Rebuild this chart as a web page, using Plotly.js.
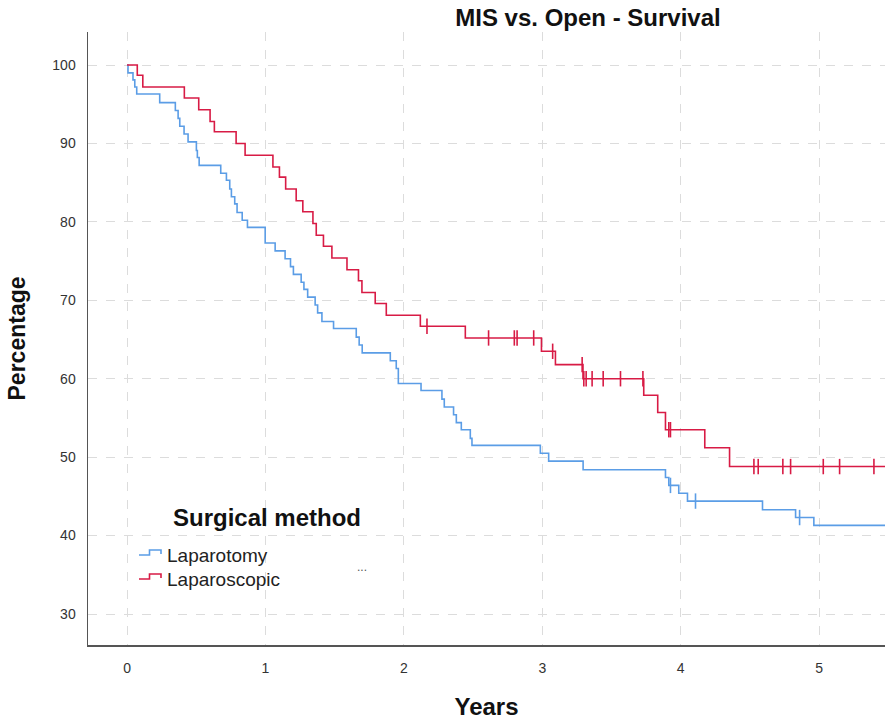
<!DOCTYPE html>
<html>
<head>
<meta charset="utf-8">
<script src="https://cdn.plot.ly/plotly-3.0.1.min.js"></script>
<style>html,body{margin:0;padding:0;background:#fff;}#chart{width:885px;height:722px;}</style>
</head>
<body>
<div id="chart"></div>
<script>
// Series names
const seriesNames = ["Laparotomy", "Laparoscopic"];

// Laparotomy (blue) step function: times (years) and survival (%)
const lapTomyTimes = [0, 0.007, 0.043, 0.056, 0.070, 0.236, 0.349, 0.369, 0.381, 0.412, 0.441, 0.501, 0.508, 0.521, 0.677, 0.718, 0.742, 0.754, 0.778, 0.795, 0.832, 0.870, 0.998, 1.070, 1.142, 1.181, 1.202, 1.258, 1.278, 1.305, 1.359, 1.377, 1.408, 1.492, 1.656, 1.677, 1.699, 1.902, 1.945, 1.960, 2.124, 2.275, 2.292, 2.359, 2.379, 2.415, 2.480, 2.492, 2.986, 3.046, 3.295, 3.890, 3.914, 3.986, 4.049, 4.591, 4.830, 4.962, 5.5];
const lapTomySurv  = [100, 99.0, 98.1, 97.2, 96.3, 95.2, 94.2, 93.2, 92.2, 91.2, 90.2, 89.1, 88.2, 87.2, 86.2, 85.3, 84.2, 83.2, 82.3, 81.2, 80.2, 79.3, 77.3, 76.3, 75.3, 74.3, 73.3, 72.3, 71.4, 70.4, 69.4, 68.4, 67.3, 66.4, 65.3, 64.3, 63.3, 62.3, 61.3, 59.4, 58.5, 57.4, 56.4, 55.4, 54.4, 53.5, 52.4, 51.5, 50.5, 49.5, 48.4, 47.4, 46.4, 45.4, 44.4, 43.3, 42.3, 41.3, 41.3];
const lapTomyCensor = [3.926, 4.107, 4.859];

// Laparoscopic (red) step function
const lapScopTimes = [0, 0.074, 0.114, 0.414, 0.518, 0.600, 0.631, 0.788, 0.853, 1.054, 1.101, 1.146, 1.222, 1.270, 1.343, 1.367, 1.419, 1.480, 1.589, 1.672, 1.697, 1.793, 1.873, 2.119, 2.444, 2.994, 3.095, 3.294, 3.733, 3.834, 3.890, 4.174, 4.353, 5.5];
const lapScopSurv  = [100, 98.7, 97.2, 95.8, 94.3, 92.8, 91.5, 90.0, 88.5, 87.0, 85.7, 84.2, 82.7, 81.3, 79.8, 78.3, 76.9, 75.4, 73.9, 72.5, 71.0, 69.6, 68.1, 66.7, 65.2, 63.5, 61.8, 60.0, 57.9, 55.7, 53.5, 51.2, 48.8, 48.8];
const lapScopCensor = [2.167, 2.612, 2.798, 2.818, 2.938, 3.075, 3.288, 3.300, 3.317, 3.360, 3.440, 3.565, 3.727, 3.914, 3.926, 4.529, 4.560, 4.738, 4.794, 5.030, 5.148, 5.396];

// Axis ticks
const xTicks = [0, 1, 2, 3, 4, 5];
const yTicks = [30, 40, 50, 60, 70, 80, 90, 100];

const BLUE = "#5b9de6";
const RED = "#d81b45";

function survAt(T, S, t) {
  let v = S[0];
  for (let i = 0; i < T.length; i++) { if (T[i] <= t) v = S[i]; else break; }
  return v;
}

const traces = [
  {x: lapTomyTimes, y: lapTomySurv, type: "scatter", mode: "lines", line: {shape: "hv", color: BLUE, width: 1.6}, name: seriesNames[0], hoverinfo: "skip"},
  {x: lapScopTimes, y: lapScopSurv, type: "scatter", mode: "lines", line: {shape: "hv", color: RED, width: 1.6}, name: seriesNames[1], hoverinfo: "skip"},
  {x: lapTomyCensor, y: lapTomyCensor.map(t => survAt(lapTomyTimes, lapTomySurv, t)), type: "scatter", mode: "markers",
   marker: {symbol: "line-ns", size: 11, line: {color: BLUE, width: 1.6}}, showlegend: false, hoverinfo: "skip"},
  {x: lapScopCensor, y: lapScopCensor.map(t => survAt(lapScopTimes, lapScopSurv, t)), type: "scatter", mode: "markers",
   marker: {symbol: "line-ns", size: 11, line: {color: RED, width: 1.6}}, showlegend: false, hoverinfo: "skip"}
];

const W = 885, H = 722, L = 88, R = 0, T = 32, B = 77;
const px = v => (v - L) / (W - L - R);
const py = v => (H - B - v) / (H - T - B);

function iconPath(y0) {
  return "M " + px(139) + " " + py(y0 + 4) + " L " + px(149.5) + " " + py(y0 + 4) +
         " L " + px(149.5) + " " + py(y0 - 1) + " L " + px(161) + " " + py(y0 - 1) +
         " L " + px(161) + " " + py(y0 + 3);
}

const fontFam = "Liberation Sans, Arial, sans-serif";

const layout = {
  width: W, height: H,
  margin: {l: L, r: R, t: T, b: B},
  paper_bgcolor: "#fff", plot_bgcolor: "#fff",
  showlegend: false,
  font: {family: fontFam, color: "#222"},
  title: {text: "MIS vs. Open - Survival", x: 588 / W, xanchor: "center", xref: "container",
          y: 1 - 18 / H, yanchor: "middle", yref: "container",
          font: {family: fontFam, size: 24, weight: "bold", color: "#111"}},
  xaxis: {
    range: [-0.282, 5.476], tickvals: xTicks, ticktext: xTicks.map(String),
    showline: true, linecolor: "#555", linewidth: 1.5, zeroline: false,
    showgrid: true, gridcolor: "#dcdcdc", griddash: "dash", gridwidth: 1,
    ticks: "", tickfont: {size: 14, color: "#333", family: fontFam}, ticklabelstandoff: 10,
    title: {text: "Years", font: {size: 24, weight: "bold", color: "#111", family: fontFam}, standoff: 23},
    fixedrange: true
  },
  yaxis: {
    range: [26.05, 104.21], tickvals: yTicks, ticktext: yTicks.map(String),
    showline: true, linecolor: "#555", linewidth: 1.5, zeroline: false,
    showgrid: true, gridcolor: "#dcdcdc", griddash: "dash", gridwidth: 1,
    ticks: "", tickfont: {size: 14, color: "#333", family: fontFam}, ticklabelstandoff: 8,
    title: {text: "Percentage", font: {size: 23, weight: "bold", color: "#111", family: fontFam}, standoff: 20},
    fixedrange: true
  },
  shapes: [
    {type: "path", xref: "paper", yref: "paper", path: iconPath(551), line: {color: BLUE, width: 1.6}},
    {type: "path", xref: "paper", yref: "paper", path: iconPath(575), line: {color: RED, width: 1.6}}
  ],
  annotations: [
    {text: "Surgical method", xref: "paper", yref: "paper", x: px(171), y: py(517), xanchor: "left", yanchor: "middle",
     showarrow: false, font: {family: fontFam, size: 24, weight: "bold", color: "#111"}},
    {text: seriesNames[0], xref: "paper", yref: "paper", x: px(165), y: py(555), xanchor: "left", yanchor: "middle",
     showarrow: false, font: {family: fontFam, size: 19, color: "#222"}},
    {text: seriesNames[1], xref: "paper", yref: "paper", x: px(165), y: py(579), xanchor: "left", yanchor: "middle",
     showarrow: false, font: {family: fontFam, size: 19, color: "#222"}},
    {text: "...", xref: "paper", yref: "paper", x: px(362), y: py(567), xanchor: "center", yanchor: "middle",
     showarrow: false, font: {family: fontFam, size: 12, color: "#555"}}
  ]
};

Plotly.newPlot("chart", traces, layout, {staticPlot: true, displayModeBar: false});
</script>
</body>
</html>
